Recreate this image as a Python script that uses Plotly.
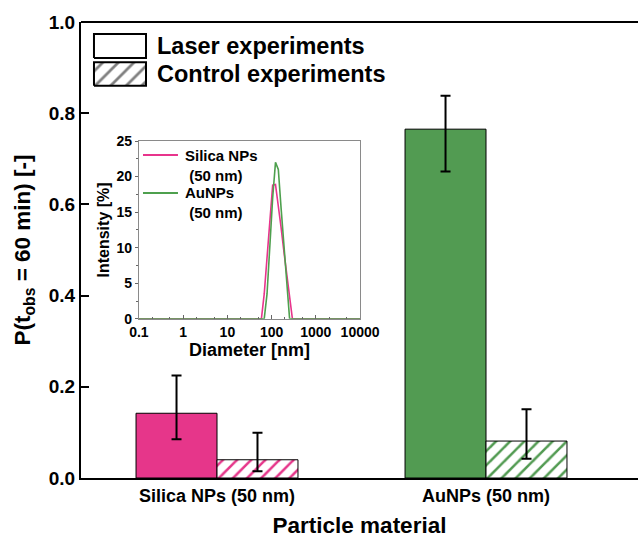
import plotly.graph_objects as go

# ---- main bar data ----
categories = ["Silica NPs (50 nm)", "AuNPs (50 nm)"]
cat_pos = [0, 1]
laser_vals = [0.142, 0.765]
laser_err_plus = [0.083, 0.073]
laser_err_minus = [0.057, 0.093]
control_vals = [0.040, 0.081]
control_err_plus = [0.059, 0.070]
control_err_minus = [0.025, 0.039]
bar_colors = ["#E6368A", "#529B52"]

# ---- inset DLS data ----
diam_nm = [0.1, 50.75, 58.77, 68.06, 78.82, 91.28, 105.7, 122.4, 141.8, 164.2,
           190.1, 220.2, 255.0, 295.3, 342.0, 10000]
silica_int = [0, 0, 0, 3.5, 8.5, 13.8, 18.8, 18.9, 16.2, 12.8, 9.4, 6.0, 2.6, 0, 0, 0]
aunp_int = [0, 0, 0, 0, 3.5, 10.5, 17.0, 22.0, 21.0, 15.5, 10.0, 4.5, 0, 0, 0, 0]
inset_names = ["Silica NPs", "AuNPs"]
inset_sub = "(50 nm)"
inset_colors = ["#E8348C", "#4EA04E"]

legend_labels = ["Laser experiments", "Control experiments"]

FONT = "Arial, Liberation Sans, sans-serif"

fig = go.Figure()

fig.add_trace(go.Bar(
    x=cat_pos, y=laser_vals, name=legend_labels[0], showlegend=False,
    marker=dict(color=bar_colors, line=dict(color="black", width=1)),
    error_y=dict(type="data", symmetric=False, array=laser_err_plus,
                 arrayminus=laser_err_minus, color="black", thickness=2, width=5),
))
fig.add_trace(go.Bar(
    x=cat_pos, y=control_vals, name=legend_labels[1], showlegend=False,
    marker=dict(color="white", line=dict(color="black", width=1),
                pattern=dict(shape="/", fgcolor=bar_colors, bgcolor="white",
                             size=10, solidity=0.25, fillmode="replace")),
    error_y=dict(type="data", symmetric=False, array=control_err_plus,
                 arrayminus=control_err_minus, color="black", thickness=2, width=5),
))

# inset DLS curves
for name, yv, col in zip(inset_names, [silica_int, aunp_int], inset_colors):
    fig.add_trace(go.Scatter(
        x=diam_nm, y=yv, mode="lines", name=name, line=dict(color=col, width=1.6),
        xaxis="x2", yaxis="y2", showlegend=False,
    ))

# inset legend (custom): line samples + labels
inset_leg_y = [0.7083, 0.625]
inset_txt_y = [0.686, 0.604]
for name, col, ly, ty in zip(inset_names, inset_colors, inset_leg_y, inset_txt_y):
    fig.add_shape(type="line", xref="paper", yref="paper", x0=0.1113, x1=0.1741,
                  y0=ly, y1=ly, line=dict(color=col, width=2), layer="above")
    fig.add_annotation(x=0.1831, y=ty, xref="paper", yref="paper",
                       text=f"{name}<br>&nbsp;{inset_sub}", align="left",
                       showarrow=False, xanchor="left", yanchor="middle",
                       font=dict(family=FONT, size=15, color="black", weight="bold"))

# main legend boxes (custom, on a hidden overlay axis)
fig.add_trace(go.Scatter(
    x=[0.0233, 0.1167, 0.1167, 0.0233, 0.0233], y=[0.921, 0.921, 0.9737, 0.9737, 0.921],
    mode="lines", fill="toself", fillcolor="white", line=dict(color="black", width=2),
    xaxis="x3", yaxis="y3", showlegend=False, hoverinfo="skip",
))
fig.add_trace(go.Scatter(
    x=[0.0233, 0.1167, 0.1167, 0.0233, 0.0233], y=[0.860, 0.860, 0.912, 0.912, 0.860],
    mode="lines", fill="toself", fillcolor="white", line=dict(color="black", width=2),
    fillpattern=dict(shape="/", fgcolor="black", bgcolor="white", size=11, solidity=0.25),
    xaxis="x3", yaxis="y3", showlegend=False, hoverinfo="skip",
))
for txt, yy in zip(legend_labels, [0.948, 0.887]):
    fig.add_annotation(x=0.133, y=yy, xref="paper", yref="paper", text=txt,
                       showarrow=False, xanchor="left", yanchor="middle",
                       font=dict(family=FONT, size=23.5, color="black", weight="bold"))

fig.update_layout(
    width=638, height=540,
    margin=dict(l=81, r=0, t=22, b=62, autoexpand=False),
    paper_bgcolor="white", plot_bgcolor="white",
    barmode="group", bargap=0.398, bargroupgap=0,
    font=dict(family=FONT, color="black"),
    showlegend=False,
    xaxis=dict(
        range=[-0.5056, 1.565], tickvals=cat_pos, ticktext=categories, automargin=False,
        showline=True, linecolor="black", linewidth=2, ticks="", showgrid=False,
        zeroline=False, tickfont=dict(size=18, weight="bold"),
        title=dict(text="Particle material", font=dict(size=22.5, weight="bold"), standoff=13),
    ),
    yaxis=dict(
        range=[0, 1.0], dtick=0.2, tickformat=".1f", automargin=False,
        showline=True, linecolor="black", linewidth=2, ticks="inside", ticklen=8,
        tickwidth=1.5, tickcolor="black", showgrid=False, zeroline=False,
        tickfont=dict(size=19, weight="bold"),
        title=dict(text="P(t<sub>obs</sub> = 60 min) [-]", font=dict(size=22.5, weight="bold"),
                   standoff=12),
    ),
    xaxis2=dict(
        type="log", range=[-1, 4], domain=[0.104, 0.501], anchor="y2", automargin=False,
        tickvals=[0.1, 1, 10, 100, 1000, 10000],
        ticktext=["0.1", "1", "10", "100", "1000", "10000"],
        showline=True, mirror=True, linecolor="#8a8a8a", linewidth=1.2,
        ticks="inside", ticklen=4, tickcolor="#666", showgrid=False, zeroline=False,
        minor=dict(ticks="inside", ticklen=2, tickcolor="#666"),
        tickfont=dict(size=14, weight="bold"),
        title=dict(text="Diameter [nm]", font=dict(size=18, weight="bold"), standoff=2),
    ),
    yaxis2=dict(
        range=[0, 25], dtick=5, domain=[0.349, 0.739], anchor="x2", automargin=False,
        showline=True, mirror=True, linecolor="#8a8a8a", linewidth=1.2,
        ticks="outside", ticklen=3, tickcolor="#666", showgrid=False, zeroline=False,
        minor=dict(ticks="outside", ticklen=2, dtick=2.5, tickcolor="#666"),
        tickfont=dict(size=14, weight="bold"),
        title=dict(text="Intensity [%]", font=dict(size=16, weight="bold"), standoff=2),
    ),
    xaxis3=dict(range=[0, 1], domain=[0, 1], anchor="y3", overlaying="x", visible=False,
                fixedrange=True),
    yaxis3=dict(range=[0, 1], domain=[0, 1], anchor="x3", overlaying="y", visible=False,
                fixedrange=True),
)

# top border of main plot
fig.add_shape(type="line", xref="paper", yref="paper", x0=0, x1=1, y0=1, y1=1,
              line=dict(color="black", width=2))

fig.write_html("out.html", config={"displayModeBar": False},
               post_script="document.body.style.margin='0';document.body.style.overflow='hidden';")
